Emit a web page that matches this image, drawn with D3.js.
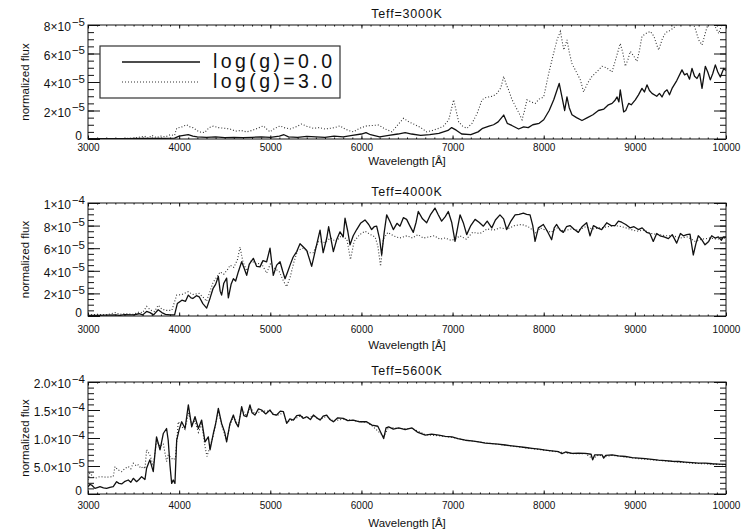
<!DOCTYPE html>
<html>
<head>
<meta charset="utf-8">
<script src="https://cdn.jsdelivr.net/npm/d3@7"></script>
<style>
  body { margin: 0; background: #fff; }
  svg { display: block; }
  text { font-family: "Liberation Sans", Arial, Helvetica, sans-serif; fill: #111; }
</style>
</head>
<body>
<div id="chart"></div>
<script>
// flux values are in units of 1e-5, wavelengths in Angstrom
var fluxUnit = 1e-5;

var panelTitles = ["Teff=3000K", "Teff=4000K", "Teff=5600K"];
var legendLabels = ["log(g)=0.0", "log(g)=3.0"];
var xTicks = [3000, 4000, 5000, 6000, 7000, 8000, 9000, 10000];
var xLabel = "Wavelength [\u00c5]";
var yLabel = "normalized flux";

var yMax = [8e-5, 1e-4, 2e-4];
var yMajorStep = [2e-5, 2e-5, 5e-5];
var yMinorStep = [0.5e-5, 0.5e-5, 1e-5];
// tick labels: [mantissa, exponent]
var yTickLabels = [
    [["0"], ["2", "-5"], ["4", "-5"], ["6", "-5"], ["8", "-5"]],
    [["0"], ["2", "-5"], ["4", "-5"], ["6", "-5"], ["8", "-5"], ["1", "-4"]],
    [["0"], ["5.0", "-5"], ["1.0", "-4"], ["1.5", "-4"], ["2.0", "-4"]]
];

var t3000_g0 = [[3000,0.02],[3200,0.03],[3400,0.02],[3600,0.05],[3800,0.04],[3950,0.06],[4000,0.2],[4050,0.25],[4100,0.3],[4150,0.2],[4200,0.15],[4300,0.12],[4400,0.15],[4500,0.1],[4600,0.12],[4700,0.1],[4800,0.12],[4900,0.15],[5000,0.12],[5100,0.2],[5150,0.3],[5200,0.15],[5300,0.12],[5400,0.18],[5500,0.15],[5600,0.12],[5700,0.2],[5800,0.15],[5900,0.25],[6000,0.35],[6050,0.45],[6100,0.3],[6200,0.15],[6300,0.25],[6400,0.35],[6480,0.45],[6550,0.35],[6650,0.25],[6750,0.3],[6850,0.4],[6950,0.6],[6990,0.8],[7040,0.62],[7100,0.35],[7200,0.3],[7280,0.5],[7330,0.75],[7400,0.9],[7450,1.0],[7500,1.2],[7561,1.68],[7600,1.1],[7650,0.95],[7725,0.7],[7780,0.85],[7830,0.8],[7880,1.0],[7950,1.1],[8000,1.35],[8060,2.0],[8110,2.75],[8170,3.9],[8200,2.95],[8230,2.0],[8255,2.95],[8280,2.2],[8310,1.7],[8360,1.5],[8420,1.3],[8480,1.5],[8540,1.7],[8600,2.0],[8660,2.1],[8710,2.4],[8750,2.5],[8780,2.7],[8805,2.95],[8825,2.6],[8840,3.45],[8877,1.9],[8900,2.0],[8932,2.5],[8960,2.4],[9005,2.75],[9040,3.1],[9078,3.55],[9105,3.3],[9133,3.8],[9160,3.4],[9188,3.2],[9240,3.0],[9270,3.2],[9298,2.95],[9325,3.3],[9353,3.45],[9380,3.1],[9408,3.55],[9460,4.1],[9517,4.85],[9545,4.5],[9572,4.6],[9600,4.2],[9627,4.95],[9655,4.4],[9682,4.25],[9710,4.6],[9737,3.55],[9773,5.1],[9800,4.7],[9828,4.15],[9855,4.6],[9883,5.2],[9910,4.7],[9938,4.35],[9975,4.95],[10000,4.8]];

var t3000_g3 = [[3000,0.0],[3300,0.02],[3500,0.05],[3620,0.2],[3660,0.05],[3700,0.25],[3750,0.1],[3800,0.2],[3850,0.15],[3900,0.3],[3950,0.25],[3973,0.75],[4030,0.85],[4083,1.0],[4120,0.85],[4150,0.8],[4220,0.5],[4280,0.45],[4330,0.8],[4373,0.9],[4430,0.8],[4500,0.75],[4560,0.7],[4620,0.55],[4680,0.6],[4741,0.5],[4800,0.6],[4860,0.75],[4924,0.92],[4960,0.7],[4997,0.5],[5050,0.75],[5107,0.92],[5150,0.8],[5217,0.7],[5280,0.85],[5344,1.05],[5400,0.9],[5472,0.75],[5540,0.8],[5600,0.7],[5655,0.75],[5710,0.8],[5764,0.92],[5820,0.7],[5880,0.55],[5911,0.5],[5980,0.75],[6057,0.92],[6120,0.95],[6189,0.98],[6260,0.7],[6335,0.5],[6400,1.0],[6463,1.45],[6520,1.2],[6590,1.0],[6650,0.8],[6717,0.5],[6780,0.6],[6848,0.75],[6900,0.9],[6958,1.35],[7012,2.75],[7067,1.2],[7110,0.9],[7158,0.75],[7213,1.1],[7270,1.8],[7323,2.75],[7360,2.9],[7396,2.95],[7440,3.0],[7487,3.2],[7530,3.6],[7561,4.4],[7590,3.8],[7615,3.45],[7650,2.8],[7689,2.3],[7730,1.8],[7762,1.35],[7790,2.0],[7816,2.75],[7860,2.6],[7908,2.5],[7950,2.8],[8000,2.95],[8055,4.6],[8100,5.8],[8146,6.95],[8183,7.55],[8220,6.25],[8256,6.95],[8283,6.0],[8310,5.3],[8350,4.8],[8402,4.15],[8438,3.3],[8480,3.9],[8530,4.4],[8580,4.7],[8640,5.1],[8690,5.0],[8749,4.7],[8790,5.6],[8840,6.7],[8870,6.0],[8895,5.1],[8925,5.6],[8950,6.15],[8990,5.8],[9023,5.45],[9050,6.2],[9078,7.2],[9120,7.4],[9170,7.55],[9210,7.2],[9240,6.6],[9262,6.25],[9300,7.0],[9335,7.45],[9380,7.6],[9426,7.8],[9480,8.2],[9530,8.3],[9580,8.1],[9620,8.4],[9660,7.8],[9700,6.95],[9737,6.6],[9780,7.6],[9810,8.2],[9850,8.5],[9880,7.9],[9920,7.4],[9957,8.1],[10000,8.3]];

var t4000_g0 = [[3000,0.05],[3100,0.05],[3200,0.08],[3300,0.1],[3350,0.05],[3400,0.12],[3500,0.1],[3560,0.2],[3600,0.1],[3643,0.4],[3680,0.3],[3720,0.1],[3770,0.55],[3810,0.3],[3850,0.15],[3900,0.1],[3950,0.1],[3980,1.1],[4030,1.4],[4070,1.3],[4101,1.85],[4130,1.6],[4150,1.55],[4190,1.8],[4220,1.7],[4260,1.1],[4302,0.7],[4340,1.6],[4373,2.45],[4400,2.8],[4430,3.5],[4450,2.2],[4466,1.85],[4490,2.9],[4521,3.35],[4540,1.6],[4570,2.8],[4595,3.3],[4620,3.1],[4649,3.9],[4686,4.8],[4710,4.3],[4741,3.6],[4770,4.6],[4814,5.1],[4850,4.4],[4887,4.35],[4920,4.9],[4960,4.8],[4997,6.0],[5033,3.6],[5070,4.5],[5107,4.8],[5135,4.0],[5162,3.3],[5190,3.9],[5217,4.5],[5250,5.2],[5290,5.7],[5326,6.4],[5363,6.1],[5400,5.8],[5454,4.4],[5500,6.0],[5546,7.6],[5580,5.6],[5620,6.9],[5640,7.9],[5692,5.7],[5730,6.8],[5765,7.45],[5800,7.0],[5820,8.65],[5850,7.5],[5875,6.3],[5910,7.1],[5948,7.65],[5990,8.2],[6039,8.5],[6080,8.1],[6112,7.65],[6140,7.9],[6167,7.95],[6200,6.8],[6222,5.4],[6250,7.4],[6277,8.95],[6310,8.4],[6350,7.65],[6390,8.2],[6423,7.95],[6460,8.7],[6496,8.55],[6530,8.0],[6569,7.4],[6600,8.3],[6624,9.25],[6670,8.6],[6716,8.25],[6760,9.0],[6807,9.55],[6840,9.0],[6880,8.4],[6920,8.8],[6953,9.25],[6990,8.3],[7027,6.6],[7055,7.8],[7082,8.95],[7120,8.2],[7155,7.2],[7200,8.0],[7247,8.55],[7290,8.3],[7338,7.95],[7380,8.4],[7430,7.8],[7470,8.5],[7520,8.95],[7560,8.6],[7594,7.65],[7640,8.4],[7686,8.95],[7730,9.0],[7777,9.1],[7813,9.0],[7850,8.95],[7880,8.0],[7905,6.6],[7941,7.8],[7996,8.1],[8040,7.5],[8087,6.75],[8115,7.8],[8142,8.1],[8180,7.6],[8215,7.4],[8250,7.9],[8288,8.0],[8330,7.7],[8380,7.4],[8420,7.9],[8471,8.25],[8508,7.1],[8545,8.0],[8590,7.8],[8636,7.65],[8691,8.25],[8740,8.0],[8782,8.0],[8820,8.4],[8855,8.3],[8900,8.1],[8947,7.8],[8990,7.9],[9038,7.65],[9080,7.8],[9129,7.4],[9165,7.3],[9202,6.6],[9240,7.3],[9276,7.1],[9320,7.0],[9368,6.85],[9410,7.2],[9459,6.45],[9500,7.3],[9532,7.1],[9570,7.2],[9605,7.25],[9641,5.4],[9670,6.4],[9696,7.1],[9730,6.8],[9770,6.3],[9810,6.6],[9843,7.1],[9880,6.9],[9916,7.0],[9950,6.7],[9971,7.0],[10000,7.0]];

var t4000_g3 = [[3000,0.1],[3100,0.15],[3200,0.1],[3300,0.3],[3350,0.15],[3400,0.2],[3500,0.15],[3560,0.35],[3600,0.3],[3643,0.85],[3690,0.5],[3730,0.4],[3770,0.95],[3810,0.6],[3860,0.5],[3920,0.5],[3973,1.85],[4030,1.9],[4100,2.15],[4150,1.9],[4220,2.0],[4270,1.6],[4300,1.3],[4340,2.2],[4373,3.0],[4410,3.4],[4450,3.9],[4490,3.7],[4530,4.1],[4560,4.5],[4600,4.3],[4640,5.0],[4668,6.1],[4700,4.8],[4741,4.0],[4790,4.9],[4850,4.6],[4900,4.7],[4960,3.8],[5000,4.6],[5050,4.2],[5100,3.9],[5150,3.0],[5180,2.6],[5220,3.5],[5260,4.8],[5300,5.8],[5363,6.0],[5420,5.6],[5470,5.6],[5530,6.6],[5600,6.5],[5660,6.9],[5720,6.6],[5780,7.1],[5840,6.8],[5880,5.0],[5920,6.6],[5980,7.2],[6040,7.5],[6100,7.2],[6150,7.0],[6180,6.2],[6210,4.4],[6240,6.8],[6290,7.4],[6350,7.1],[6420,6.9],[6500,7.1],[6560,6.9],[6620,7.2],[6680,6.9],[6740,7.0],[6800,7.1],[6860,6.8],[6920,6.9],[6980,6.7],[7030,6.8],[7080,7.1],[7150,6.8],[7220,7.4],[7300,7.3],[7380,7.7],[7450,7.6],[7520,7.8],[7600,7.7],[7680,8.0],[7760,8.1],[7830,7.9],[7880,7.6],[7920,7.3],[7960,7.8],[8020,7.6],[8080,7.4],[8150,7.8],[8220,7.5],[8300,7.7],[8380,7.6],[8460,7.9],[8540,7.7],[8620,7.8],[8700,7.9],[8780,8.0],[8860,7.9],[8940,7.7],[9020,7.5],[9100,7.6],[9180,7.3],[9260,7.2],[9340,7.1],[9420,7.1],[9500,6.9],[9580,7.0],[9660,6.6],[9740,6.8],[9820,6.9],[9900,6.8],[10000,6.9]];

var t5600_g0 = [[3000,1.3],[3020,1.7],[3040,1.6],[3076,1.0],[3110,1.2],[3131,1.3],[3170,1.1],[3204,1.0],[3240,1.2],[3277,1.3],[3314,2.2],[3340,1.9],[3369,1.8],[3400,2.2],[3442,2.5],[3470,2.1],[3497,2.8],[3533,2.2],[3560,2.6],[3588,3.1],[3625,2.6],[3643,4.6],[3679,6.1],[3716,4.0],[3752,10.2],[3790,7.9],[3826,10.8],[3862,11.7],[3880,9.6],[3900,5.0],[3918,1.9],[3935,2.5],[3954,1.9],[3973,9.6],[4000,11.5],[4028,12.9],[4065,11.7],[4101,15.9],[4138,12.0],[4174,13.8],[4211,11.7],[4247,13.2],[4284,9.3],[4320,10.2],[4339,7.9],[4375,10.8],[4400,12.5],[4430,15.3],[4466,12.6],[4500,11.0],[4521,9.3],[4558,12.6],[4595,14.1],[4620,12.8],[4649,12.0],[4686,15.6],[4710,14.0],[4741,13.8],[4777,15.9],[4800,14.5],[4832,14.1],[4870,15.2],[4905,15.0],[4950,14.3],[4997,15.0],[5030,14.2],[5070,14.1],[5110,14.8],[5144,14.7],[5180,12.6],[5215,13.4],[5253,13.2],[5290,14.0],[5326,14.1],[5360,13.5],[5400,13.8],[5440,13.3],[5473,14.1],[5510,13.6],[5546,13.2],[5580,13.9],[5619,14.1],[5655,13.3],[5692,12.9],[5740,13.6],[5801,13.5],[5850,13.1],[5911,13.2],[5980,12.9],[6057,12.9],[6116,12.3],[6180,12.1],[6244,9.9],[6270,11.8],[6299,12.0],[6350,11.6],[6409,11.8],[6480,11.5],[6555,11.8],[6620,11.0],[6701,10.5],[6770,10.7],[6848,10.5],[6920,10.3],[6994,10.2],[7060,9.9],[7140,9.6],[7210,9.5],[7286,9.3],[7360,9.1],[7432,9.0],[7500,8.9],[7579,8.75],[7650,8.6],[7725,8.45],[7800,8.3],[7872,8.15],[7950,8.0],[8018,7.85],[8090,7.7],[8164,7.55],[8200,7.2],[8240,7.5],[8311,7.25],[8380,7.3],[8457,7.25],[8520,7.1],[8537,6.1],[8560,7.0],[8603,7.0],[8640,7.0],[8658,6.4],[8680,6.9],[8750,7.0],[8820,6.8],[8896,6.7],[8970,6.5],[9042,6.4],[9115,6.3],[9188,6.2],[9260,6.05],[9335,5.95],[9410,5.85],[9481,5.8],[9550,5.7],[9627,5.6],[9700,5.5],[9773,5.5],[9850,5.4],[9920,5.35],[10000,5.3]];

var t5600_g3 = [[3000,2.5],[3020,3.7],[3050,3.2],[3076,2.8],[3131,3.1],[3200,3.0],[3277,3.1],[3296,4.9],[3330,4.3],[3369,4.0],[3410,4.6],[3442,4.9],[3470,4.5],[3497,5.5],[3530,5.0],[3552,5.2],[3580,4.6],[3606,4.9],[3625,4.5],[3643,7.9],[3679,7.0],[3716,5.0],[3752,9.5],[3790,8.5],[3826,9.0],[3862,5.8],[3880,7.0],[3910,6.5],[3935,6.1],[3960,6.5],[3990,12.9],[4028,12.0],[4065,11.5],[4101,14.5],[4138,12.5],[4174,13.0],[4211,11.0],[4247,12.5],[4284,8.5],[4305,6.7],[4339,8.5],[4375,10.5],[4430,14.8],[4466,12.3],[4521,9.6],[4558,12.3],[4595,13.8],[4649,12.3],[4686,15.2],[4741,13.9],[4777,15.5],[4832,14.3],[4905,14.8],[4997,14.8],[5070,14.0],[5144,14.5],[5180,12.8],[5253,13.3],[5326,13.9],[5400,13.6],[5473,13.9],[5546,13.3],[5619,13.9],[5692,13.0],[5801,13.4],[5911,13.1],[6057,12.8],[6116,12.2],[6244,10.3],[6299,11.9],[6409,11.7],[6555,11.7],[6701,10.6],[6848,10.4],[6994,10.1],[7140,9.6],[7286,9.3],[7432,9.0],[7579,8.7],[7725,8.4],[7872,8.1],[8018,7.8],[8164,7.5],[8311,7.2],[8457,7.2],[8537,6.3],[8603,7.0],[8658,6.6],[8750,6.9],[8896,6.6],[9042,6.3],[9188,6.1],[9335,5.9],[9481,5.7],[9627,5.5],[9773,5.4],[10000,5.2]];

var solidSeries = [t3000_g0, t4000_g0, t5600_g0];
var dottedSeries = [t3000_g3, t4000_g3, t5600_g3];

(function () {
    var width = 744,
        height = 531,
        left = 88,
        plotW = 638,
        panelTop = [25, 203, 382],
        panelH = [114, 113, 112],
        xLabelPad = [5, 9.5, 7.5];

    var svg = d3.select("#chart").append("svg")
        .attr("width", width)
        .attr("height", height);

    panelTitles.forEach(function (title, i) {
        var H = panelH[i];
        var g = svg.append("g")
            .attr("transform", "translate(" + left + "," + panelTop[i] + ")");

        var x = d3.scaleLinear().domain([3000, 10000]).range([0, plotW]);
        var y = d3.scaleLinear().domain([0, yMax[i]]).range([H, 0]);

        g.append("clipPath").attr("id", "clip" + i)
            .append("rect").attr("width", plotW).attr("height", H);

        var line = d3.line()
            .x(d => x(d[0]))
            .y(d => y(d[1] * fluxUnit));

        var lines = g.append("g").attr("clip-path", "url(#clip" + i + ")");
        lines.append("path")
            .datum(dottedSeries[i])
            .attr("d", line)
            .attr("fill", "none")
            .attr("stroke", "#333")
            .attr("stroke-width", 1.1)
            .attr("stroke-dasharray", "1,2");
        lines.append("path")
            .datum(solidSeries[i])
            .attr("d", line)
            .attr("fill", "none")
            .attr("stroke", "#111")
            .attr("stroke-width", 1.3)
            .attr("stroke-linejoin", "round");

        // axes: IDL style ticks pointing inward on all four sides
        var xMinor = d3.range(3000, 10001, 100);
        var yMinor = d3.range(0, yMax[i] + 1e-9, yMinorStep[i]);
        var yMajor = d3.range(0, yMax[i] + 1e-9, yMajorStep[i]);

        function addAxis(axis, tx, ty) {
            var a = g.append("g")
                .attr("transform", "translate(" + tx + "," + ty + ")")
                .attr("font-size", 12)
                .attr("font-family", "Liberation Sans, Arial, sans-serif")
                .call(axis);
            a.select(".domain").remove();
            a.selectAll("line").attr("stroke", "#111");
            return a;
        }

        addAxis(d3.axisBottom(x).tickValues(xMinor).tickSize(-1.5).tickFormat(""), 0, H);
        addAxis(d3.axisTop(x).tickValues(xMinor).tickSize(-1.5).tickFormat(""), 0, 0);
        addAxis(d3.axisBottom(x).tickValues(xTicks).tickSize(-3.5).tickPadding(xLabelPad[i]).tickFormat(d3.format("d")), 0, H)
            .selectAll("text").attr("fill", "#111");
        addAxis(d3.axisTop(x).tickValues(xTicks).tickSize(-3.5).tickFormat(""), 0, 0);

        addAxis(d3.axisLeft(y).tickValues(yMinor).tickSize(-6).tickFormat(""), 0, 0);
        addAxis(d3.axisRight(y).tickValues(yMinor).tickSize(-6).tickFormat(""), plotW, 0);
        addAxis(d3.axisLeft(y).tickValues(yMajor).tickSize(-12).tickFormat(""), 0, 0);
        addAxis(d3.axisRight(y).tickValues(yMajor).tickSize(-12).tickFormat(""), plotW, 0);

        g.append("rect")
            .attr("width", plotW)
            .attr("height", H)
            .attr("fill", "none")
            .attr("stroke", "#111")
            .attr("stroke-width", 1);

        // y tick labels with superscript exponents
        yTickLabels[i].forEach(function (lab, k) {
            var v = yMajor[k];
            var t = g.append("text")
                .attr("x", lab.length > 1 ? -3 : -6)
                .attr("y", y(v) + (lab.length > 1 ? 6 : 0.5))
                .attr("text-anchor", "end")
                .attr("font-size", 12);
            if (lab.length > 1) {
                t.append("tspan").text(lab[0] + "\u00d710");
                t.append("tspan")
                    .attr("dx", 1)
                    .attr("dy", -5.5)
                    .attr("font-size", 11.5)
                    .text(lab[1].replace("-", "\u2212"));
            } else {
                t.text(lab[0]);
            }
        });

        g.append("text")
            .attr("transform", "translate(-59," + (H / 2) + ") rotate(-90)")
            .attr("text-anchor", "middle")
            .attr("font-size", 11.5)
            .text(yLabel);

        g.append("text")
            .attr("x", plotW / 2)
            .attr("y", H + (i === 0 ? 26 : 33))
            .attr("text-anchor", "middle")
            .attr("font-size", 11.5)
            .text(xLabel);

        g.append("text")
            .attr("x", plotW / 2)
            .attr("y", -7)
            .attr("text-anchor", "middle")
            .attr("font-size", 12.5)
            .attr("letter-spacing", 0.8)
            .text(title);

        if (i === 0) {
            var leg = g.append("g");
            leg.append("rect")
                .attr("x", 12).attr("y", 21)
                .attr("width", 240).attr("height", 52)
                .attr("fill", "#fff")
                .attr("stroke", "#333")
                .attr("stroke-width", 1.2);
            [0, 1].forEach(function (k) {
                var ly = 37 + k * 20;
                leg.append("line")
                    .attr("x1", 34).attr("x2", 112)
                    .attr("y1", ly).attr("y2", ly)
                    .attr("stroke", k === 0 ? "#111" : "#333")
                    .attr("stroke-width", k === 0 ? 1.3 : 1.1)
                    .attr("stroke-dasharray", k === 0 ? null : "1,2");
                leg.append("text")
                    .attr("x", 125)
                    .attr("y", ly + 6)
                    .attr("font-size", 19.5)
                    .attr("fill", "#333")
                    .attr("textLength", 119)
                    .attr("lengthAdjust", "spacing")
                    .text(legendLabels[k]);
            });
        }
    });
})();
</script>
</body>
</html>
